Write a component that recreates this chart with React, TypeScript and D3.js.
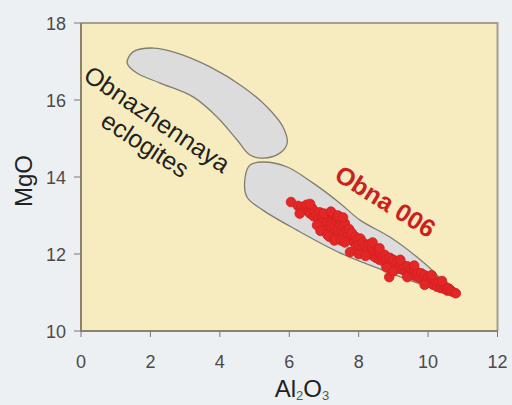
import React from 'react'
import * as d3 from 'd3'

const WIDTH = 512
const HEIGHT = 405
const MARGIN = { left: 81, right: 14.5, top: 23, bottom: 74 }

const X_TICKS = [0, 2, 4, 6, 8, 10, 12]
const Y_TICKS = [10, 12, 14, 16, 18]

// outline of the upper field (Al2O3, MgO)
const upperField: [number, number][] = [
  [1.33, 16.96], [1.5, 17.25], [2.07, 17.35], [2.77, 17.22], [3.72, 16.86],
  [4.67, 16.34], [5.36, 15.82], [5.82, 15.3], [5.94, 14.88], [5.73, 14.62],
  [5.24, 14.49], [4.87, 14.57], [4.5, 14.96], [3.92, 15.56], [3.23, 16.08],
  [2.28, 16.44], [1.61, 16.7],
]

// outline of the lower field
const lowerField: [number, number][] = [
  [4.87, 14.31], [5.24, 14.39], [5.94, 14.26], [6.69, 13.84], [7.46, 13.32],
  [8.04, 12.88], [8.9, 12.44], [9.68, 11.92], [10.26, 11.45], [10.49, 11.19],
  [10.29, 11.09], [9.68, 11.25], [8.7, 11.58], [7.46, 12.03], [6.22, 12.62],
  [5.24, 13.14], [4.78, 13.48], [4.73, 14.0],
]

// Obna 006 analyses
const obnaAl = [
  6.05, 6.25, 6.35, 6.45, 6.5, 6.55, 6.6, 6.65, 6.7, 6.72, 6.78, 6.85, 6.88, 6.92,
  6.95, 7.0, 7.02, 7.05, 7.1, 7.12, 7.15, 7.2, 7.22, 7.25, 7.28, 7.3, 7.32, 7.35,
  7.38, 7.4, 7.42, 7.45, 7.48, 7.5, 7.52, 7.55, 7.58, 7.6, 7.62, 7.65, 7.7, 7.72,
  7.75, 7.78, 7.8, 7.85, 7.9, 7.92, 7.95, 8.0, 8.05, 8.1, 8.12, 8.18, 8.2, 8.25,
  8.3, 8.35, 8.38, 8.42, 8.45, 8.5, 8.55, 8.6, 8.62, 8.68, 8.72, 8.75, 8.8, 8.85,
  8.88, 8.9, 8.95, 9.0, 9.05, 9.1, 9.15, 9.2, 9.25, 9.3, 9.35, 9.4, 9.45, 9.5,
  9.55, 9.6, 9.65, 9.7, 9.75, 9.8, 9.85, 9.9, 9.95, 10.0, 10.05, 10.1, 10.15, 10.2,
  10.25, 10.3, 10.35, 10.4, 10.45, 10.5, 10.55, 10.6, 10.65, 10.7, 10.8,
  6.3, 6.6, 6.8, 6.9, 7.0, 7.1, 7.15, 7.2, 7.3, 7.3, 7.4, 7.5, 7.55, 7.6,
  8.0, 8.2, 8.4, 8.6, 8.8, 9.0, 9.2, 9.4, 9.6, 9.9, 10.1, 10.4,
]
const obnaMg = [
  13.35, 13.25, 13.22, 13.15, 13.28, 13.1, 13.05, 13.2, 12.98, 13.12, 13.02, 12.95, 13.08, 12.85,
  13.02, 12.9, 12.75, 12.98, 12.85, 12.65, 12.95, 12.78, 12.62, 12.9, 13.02, 12.72, 12.55, 12.85,
  12.95, 12.65, 12.5, 12.78, 12.88, 12.6, 12.45, 12.72, 12.55, 12.8, 12.4, 12.62, 12.48, 12.65,
  12.05, 12.4, 12.55, 12.32, 12.45, 12.22, 12.36, 12.25, 12.4, 12.15, 12.3, 12.05, 12.22, 12.1,
  12.25, 12.0, 12.15, 11.95, 12.1, 11.9, 12.05, 11.85, 12.0, 11.92, 11.8, 11.98, 11.85, 11.7,
  11.4, 11.9, 11.75, 11.85, 11.68, 11.8, 11.62, 11.75, 11.6, 11.7, 11.55, 11.68, 11.5, 11.62,
  11.45, 11.58, 11.42, 11.52, 11.38, 11.5, 11.35, 11.45, 11.3, 11.4, 11.25, 11.35, 11.2, 11.3,
  11.15, 11.25, 11.12, 11.2, 11.1, 11.15, 11.05, 11.1, 11.05, 11.02, 10.98,
  13.05, 13.3, 12.75, 12.6, 13.05, 12.5, 12.45, 13.1, 12.4, 12.35, 13.0, 12.35, 12.95, 12.3,
  12.0, 11.95, 12.3, 12.15, 11.65, 11.55, 11.85, 11.4, 11.7, 11.2, 11.45, 11.3,
]

const x = d3.scaleLinear().domain([0, 12]).range([MARGIN.left, WIDTH - MARGIN.right])
const y = d3.scaleLinear().domain([10, 18]).range([HEIGHT - MARGIN.bottom, MARGIN.top])

const outline = d3.line<[number, number]>()
  .x((d) => x(d[0]))
  .y((d) => y(d[1]))
  .curve(d3.curveCatmullRomClosed.alpha(0.5))

const FONT = 'Liberation Sans, Arial, sans-serif'

export default function App() {
  const x0 = x(0), x1 = x(12), y0 = y(10), y1 = y(18)
  const tickFont = { fontFamily: FONT, fontSize: 18, fill: '#4a4a4a' }
  return (
    <svg width={WIDTH} height={HEIGHT} style={{ position: 'absolute', left: 0, top: 0 }}>
      <rect x={0} y={0} width={WIDTH} height={HEIGHT} fill="#edf0f3" />
      <rect x={x0} y={y1} width={x1 - x0} height={y0 - y1} fill="#f6ecbf" />
      {/* top / right frame */}
      <path d={`M${x0},${y1}H${x1}V${y0}`} fill="none" stroke="#a3a090" strokeWidth={2} />

      <path d={outline(upperField) ?? ''} fill="#dcdcdc" stroke="#807e70" strokeWidth={1.3} />
      <path d={outline(lowerField) ?? ''} fill="#dcdcdc" stroke="#807e70" strokeWidth={1.3} />

      <g>
        {obnaAl.map((a, i) => (
          <circle key={i} cx={x(a)} cy={y(obnaMg[i])} r={4.8} fill="#e32626" stroke="#d01f1f" strokeWidth={0.8} />
        ))}
      </g>

      {/* axes */}
      <path d={`M${x0},${y1}V${y0}H${x1}`} fill="none" stroke="#8b846a" strokeWidth={2} />
      {Y_TICKS.map((t) => (
        <g key={'y' + t}>
          <line x1={x0 - 7} x2={x0} y1={y(t)} y2={y(t)} stroke="#777" strokeWidth={1} />
          <text x={x0 - 15} y={y(t) + 6.5} textAnchor="end" {...tickFont}>{t}</text>
        </g>
      ))}
      {X_TICKS.map((t) => (
        <g key={'x' + t}>
          <line x1={x(t)} x2={x(t)} y1={y0} y2={y0 + 6} stroke="#777" strokeWidth={1} />
          <text x={x(t)} y={y0 + 37} textAnchor="middle" {...tickFont}>{t}</text>
        </g>
      ))}

      <text transform="translate(32,181) rotate(-90)" textAnchor="middle"
        fontFamily={FONT} fontSize={24} fill="#222">MgO</text>
      <text x={302} y={397} textAnchor="middle" fontFamily={FONT} fontSize={24} fill="#222">
        Al<tspan fontSize={13} fill="#555" dy={3}>2</tspan><tspan dy={-3}>O</tspan><tspan fontSize={13} fill="#555" dy={3}>3</tspan>
      </text>

      <text transform="translate(82,79) rotate(34)" fontFamily={FONT} fontSize={25} fill="#222">Obnazhennaya</text>
      <text transform="translate(99,125) rotate(33)" fontFamily={FONT} fontSize={25} fill="#222">eclogites</text>
      <text transform="translate(333,179) rotate(32)" fontFamily={FONT} fontSize={25}
        fontWeight="bold" fill="#cc2020">Obna 006</text>
    </svg>
  )
}
